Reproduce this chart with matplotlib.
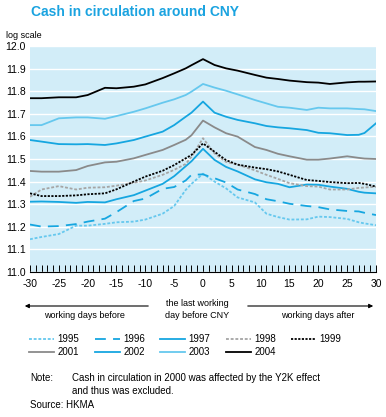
import numpy as np
import matplotlib
matplotlib.use("Agg")
import matplotlib.pyplot as plt
from matplotlib.lines import Line2D

plt.rcParams['font.family'] = ['Liberation Sans', 'DejaVu Sans']

# working days relative to the last working day before CNY
days = [-30, -28, -25, -22, -20, -17, -15, -12, -10, -7, -5, -3, -2, 0,
        2, 4, 6, 9, 11, 13, 15, 18, 20, 22, 25, 27, 28, 30]

y1995 = [11.145, 11.155, 11.168, 11.205, 11.205, 11.213, 11.220, 11.223, 11.232, 11.258,
         11.292, 11.363, 11.390, 11.435, 11.400, 11.370, 11.330, 11.308, 11.258, 11.243,
         11.232, 11.233, 11.245, 11.243, 11.235, 11.220, 11.215, 11.207]
y1996 = [11.210, 11.201, 11.203, 11.212, 11.223, 11.236, 11.265, 11.314, 11.325, 11.368,
         11.376, 11.405, 11.430, 11.432, 11.415, 11.396, 11.365, 11.345, 11.322, 11.313,
         11.302, 11.292, 11.287, 11.277, 11.270, 11.268, 11.262, 11.252]
y1997 = [11.311, 11.312, 11.310, 11.306, 11.310, 11.308, 11.322, 11.340, 11.360, 11.390,
         11.424, 11.468, 11.490, 11.545, 11.496, 11.465, 11.445, 11.410, 11.397, 11.390,
         11.375, 11.387, 11.386, 11.378, 11.368, 11.355, 11.351, 11.348]
y1998 = [11.333, 11.365, 11.380, 11.365, 11.373, 11.375, 11.382, 11.395, 11.405, 11.430,
         11.452, 11.478, 11.510, 11.592, 11.525, 11.487, 11.475, 11.450, 11.430, 11.412,
         11.393, 11.380, 11.378, 11.365, 11.365, 11.372, 11.374, 11.377]
y1999 = [11.348, 11.336, 11.336, 11.339, 11.344, 11.348, 11.366, 11.400, 11.422, 11.448,
         11.473, 11.503, 11.518, 11.569, 11.532, 11.495, 11.475, 11.462, 11.455, 11.445,
         11.430, 11.407, 11.403, 11.398, 11.393, 11.394, 11.390, 11.378]
y2001 = [11.447, 11.444, 11.444, 11.451, 11.469, 11.485, 11.488, 11.503, 11.518, 11.540,
         11.562, 11.585, 11.605, 11.670, 11.640, 11.614, 11.599, 11.553, 11.540, 11.523,
         11.512, 11.497, 11.497, 11.502, 11.512, 11.505, 11.502, 11.500]
y2002 = [11.584, 11.577, 11.566, 11.565, 11.566, 11.562, 11.569, 11.584, 11.599, 11.621,
         11.650, 11.687, 11.705, 11.754, 11.705, 11.687, 11.673, 11.658, 11.646, 11.640,
         11.636, 11.628, 11.616, 11.614, 11.606, 11.607, 11.615, 11.658]
y2003 = [11.650, 11.650, 11.680, 11.684, 11.684, 11.678, 11.690, 11.709, 11.724, 11.749,
         11.764, 11.783, 11.798, 11.832, 11.816, 11.802, 11.786, 11.761, 11.746, 11.731,
         11.727, 11.717, 11.727, 11.724, 11.724, 11.721, 11.720, 11.712]
y2004 = [11.769, 11.769, 11.773, 11.773, 11.783, 11.815, 11.813, 11.820, 11.830, 11.858,
         11.879, 11.901, 11.915, 11.942, 11.916, 11.901, 11.891, 11.872, 11.860, 11.854,
         11.847, 11.840, 11.838, 11.832, 11.839, 11.842, 11.842, 11.843]

years = ['1995', '1996', '1997', '1998', '1999', '2001', '2002', '2003', '2004']
values = [y1995, y1996, y1997, y1998, y1999, y2001, y2002, y2003, y2004]

x_ticks = [-30, -25, -20, -15, -10, -5, 0, 5, 10, 15, 20, 25, 30]
y_ticks = [11.0, 11.1, 11.2, 11.3, 11.4, 11.5, 11.6, 11.7, 11.8, 11.9, 12.0]

BLUE = '#16a6e0'
LIGHT = '#66c8ee'
GREY = '#8a8a8a'
styles = {
    '1995': dict(color=LIGHT, dashes=(1.6, 1.0)),
    '1996': dict(color=BLUE, dashes=(6, 4)),
    '1997': dict(color=BLUE),
    '1998': dict(color='#a5a5a5', dashes=(1.6, 1.0)),
    '1999': dict(color='black', dashes=(1.2, 0.8)),
    '2001': dict(color=GREY),
    '2002': dict(color=BLUE),
    '2003': dict(color=LIGHT),
    '2004': dict(color='black'),
}

fig = plt.figure(figsize=(3.86, 4.17), dpi=100)
ax = fig.add_axes([30 / 386, 1 - 272 / 417, 346 / 386, 226 / 417])
ax.set_facecolor('#d2edf8')

for yr, vals in zip(years, values):
    ax.plot(days, vals, lw=1.3, label=yr, zorder=3, **styles[yr])

ax.set_xlim(-30, 30)
ax.set_ylim(11.0, 12.0)
ax.set_yticks(y_ticks)
ax.set_yticklabels([f'{v:.1f}' for v in y_ticks], fontsize=7.5)
ax.set_xticks(x_ticks)
ax.set_xticklabels([str(v) for v in x_ticks], fontsize=7.5)
ax.set_xticks(np.arange(-30, 31, 1), minor=True)
ax.tick_params(axis='x', which='both', direction='in', length=5, width=0.7, pad=5)
ax.tick_params(axis='y', length=0, pad=3)
ax.grid(axis='y', color='white', lw=1.0, zorder=1)
for side in ['top', 'right', 'left']:
    ax.spines[side].set_visible(False)
ax.spines['bottom'].set_linewidth(0.8)

fig.text(31 / 386, 1 - 12 / 417, 'Cash in circulation around CNY', color='#1aa3e0',
         fontsize=10, fontweight='bold', va='center')
fig.text(6 / 386, 1 - 35 / 417, 'log scale', fontsize=6.5, va='center')

# arrows and x-axis captions
y_arr = 1 - 306 / 417
ax.annotate('', xy=(22 / 386, y_arr), xytext=(151 / 386, y_arr), xycoords='figure fraction',
            arrowprops=dict(arrowstyle='-|>', color='black', lw=0.8, mutation_scale=6))
ax.annotate('', xy=(376 / 386, y_arr), xytext=(245 / 386, y_arr), xycoords='figure fraction',
            arrowprops=dict(arrowstyle='-|>', color='black', lw=0.8, mutation_scale=6))
fig.text(197 / 386, 1 - 303 / 417, 'the last working', fontsize=6.5, ha='center', va='center')
fig.text(197 / 386, 1 - 315 / 417, 'day before CNY', fontsize=6.5, ha='center', va='center')
fig.text(84 / 386, 1 - 315 / 417, 'working days before', fontsize=6.5, ha='center', va='center')
fig.text(318 / 386, 1 - 315 / 417, 'working days after', fontsize=6.5, ha='center', va='center')

# legend: filled row-wise over 5 columns
handles = {yr: Line2D([], [], lw=1.3, **styles[yr]) for yr in years}
order = ['1995', '2001', '1996', '2002', '1997', '2003', '1998', '2004', '1999']
fig.legend([handles[y] for y in order], order, ncol=5, frameon=False, fontsize=7,
           loc='upper left', bbox_to_anchor=(29 / 386, 1 - 334 / 417),
           handlelength=2.6, handletextpad=0.35, columnspacing=1.55,
           labelspacing=0.35, borderpad=0, borderaxespad=0)

fig.text(30 / 386, 1 - 378 / 417, 'Note:', fontsize=7, va='center')
fig.text(72 / 386, 1 - 378 / 417, 'Cash in circulation in 2000 was affected by the Y2K effect',
         fontsize=7, va='center')
fig.text(72 / 386, 1 - 391 / 417, 'and thus was excluded.', fontsize=7, va='center')
fig.text(30 / 386, 1 - 405 / 417, 'Source: HKMA', fontsize=7, va='center')

fig.savefig('out.png', dpi=100)
